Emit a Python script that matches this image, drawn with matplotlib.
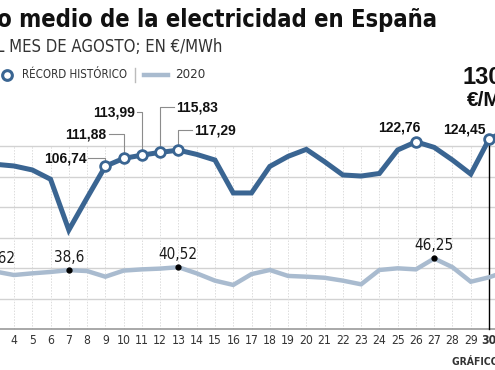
import matplotlib
matplotlib.use("Agg")
import matplotlib.pyplot as plt
from matplotlib.lines import Line2D

W, H = 495, 370

days = list(range(3, 32))
record = [108, 106.9, 104.3, 98.2, 64.9, 86, 106.74, 111.88, 113.99, 115.83, 117.29,
          114.5, 110.8, 89.2, 89.2, 106.6, 113.2, 117.8, 109.7, 101, 100.3, 102, 117.4,
          122.76, 119.1, 110.8, 101.6, 124.45, 130.53]
y2020 = [37.62, 35.4, 36.5, 37.4, 38.6, 38, 34.3, 38.3, 39.1, 39.6, 40.52, 36.5, 31.7,
         28.9, 36, 38.7, 34.8, 34.3, 33.6, 31.7, 29.3, 38.7, 39.8, 39.1, 46.25, 40.5,
         31.0, 33.9, 38]
record_marked = [9, 10, 11, 12, 13, 26, 30, 31]
dots_2020 = [3, 7, 13, 27]
tick_days = list(range(1, 32))
today = 30

c_rec = "#3a6592"
c_20 = "#a9bbcf"
cond = dict(family="DejaVu Sans", stretch="condensed")
arial = dict(family=["Liberation Sans", "DejaVu Sans"])


def fmt(v):
    return ("%g" % v).replace(".", ",")


def px(x, y):
    return x / W, 1 - y / H


fig = plt.figure(figsize=(W / 100, H / 100), dpi=100)
ax = fig.add_axes([0, 0, 1, 1])
ax.set_xlim(3.2337, 30.327)
ax.set_ylim(-26.885, 215.738)
ax.axis("off")

# pixel -> data scale
ppd = W / (30.327 - 3.2337)
ppu = H / (215.738 + 26.885)

# grid
for g in range(20, 121, 20):
    ax.plot([0, 32], [g, g], color="#d2d2d2", lw=1, zorder=1)
for d in tick_days:
    ax.plot([d, d], [0, 120], color="#dcdcdc", lw=0.7, ls=(0, (1.5, 1.5)), zorder=1)
ax.plot([0, 32], [0, 0], color="#9a9a9a", lw=1.2, zorder=2)

# today line
ax.plot([today, today], [0, record[days.index(today)]], color="black", lw=1, zorder=3)

# series
ax.plot(days, y2020, color=c_20, lw=3.2, solid_joinstyle="miter", zorder=4)
ax.plot(days, record, color=c_rec, lw=3.6, solid_joinstyle="miter", zorder=5)
mx = [d for d in record_marked]
my = [record[days.index(d)] for d in record_marked]
ax.plot(mx, my, ls="none", marker="o", ms=7, mfc="white", mec=c_rec, mew=2, zorder=6)
dx = dots_2020
dy = [y2020[days.index(d)] for d in dots_2020]
ax.plot(dx, dy, ls="none", marker="o", ms=3.5, color="black", zorder=6)

# 2020 labels
for d, v in zip(dx, dy):
    ax.text(d, v + 13 / ppu, fmt(v), ha="center", va="center", fontsize=11,
            color="#1a1a1a", zorder=7, **cond)

# record labels with leaders (offsets in px)
leaders = {9: (-8, -17, "right"), 10: (-24, -15, "right"), 11: (-43, -5, "right"),
           12: (-45, 14, "left"), 13: (-20, 14, "left")}
for d, (up, side, ha) in leaders.items():
    v = record[days.index(d)]
    ly = v - up / ppu
    lx = d + side / ppd
    ax.plot([d, d, lx], [v, ly, ly], color="#8c8c8c", lw=0.8, zorder=3)
    tx = lx + (-2 if ha == "right" else 2) / ppd
    ax.text(tx, ly, fmt(v), ha=ha, va="center", fontsize=10, fontweight="bold",
            color="#111111", zorder=7, **arial)
for d, up, xo, ha in [(26, 14, -17, "center"), (30, 10, -3, "right")]:
    v = record[days.index(d)]
    ax.text(d + xo / ppd, v + up / ppu, fmt(v), ha=ha, va="center", fontsize=10,
            fontweight="bold", color="#111111", zorder=7, **arial)

# x tick labels
for d in tick_days:
    ax.text(d, -(340 - 329) / ppu, str(d), ha="center", va="center", fontsize=8.7,
            fontweight="bold" if d == today else "normal", color="#333333", **cond)

# titles
fig.text(*px(437, 20), "Precio medio de la electricidad en España", ha="right",
         va="center", fontsize=17, fontweight="bold", color="#111111", **cond)
fig.text(*px(222, 47), "PRECIO DEL MES DE AGOSTO; EN €/MWh", ha="right", va="center",
         fontsize=12, color="#333333", **cond)

# big last value
last = record[-1]
fig.text(*px(462, 77), fmt(last), ha="left", va="center", fontsize=17, fontweight="bold",
         color="#111111", **arial)
fig.text(*px(467, 100), "€/MWh", ha="left", va="center", fontsize=15, fontweight="bold",
         color="#111111", **arial)

# legend
fig.add_artist(Line2D([7 / W], [1 - 75 / H], marker="o", ms=7, mfc="white", mec=c_rec,
                      mew=2.2, ls="none"))
fig.text(*px(22, 75), "RÉCORD HISTÓRICO", ha="left", va="center", fontsize=8.3,
         color="#333333", **cond)
fig.add_artist(Line2D([135 / W, 135 / W], [1 - 68 / H, 1 - 82 / H], color="#bbbbbb", lw=1))
fig.add_artist(Line2D([144 / W, 168 / W], [1 - 75 / H, 1 - 75 / H], color=c_20, lw=3.2))
fig.text(*px(175, 75), "2020", ha="left", va="center", fontsize=9.5,
         color="#333333", **cond)

fig.text(*px(452, 362), "GRÁFICO EL PAÍS", ha="left", va="center", fontsize=7.5,
         fontweight="bold", color="#333333", **cond)

fig.savefig("out.png", dpi=100)
